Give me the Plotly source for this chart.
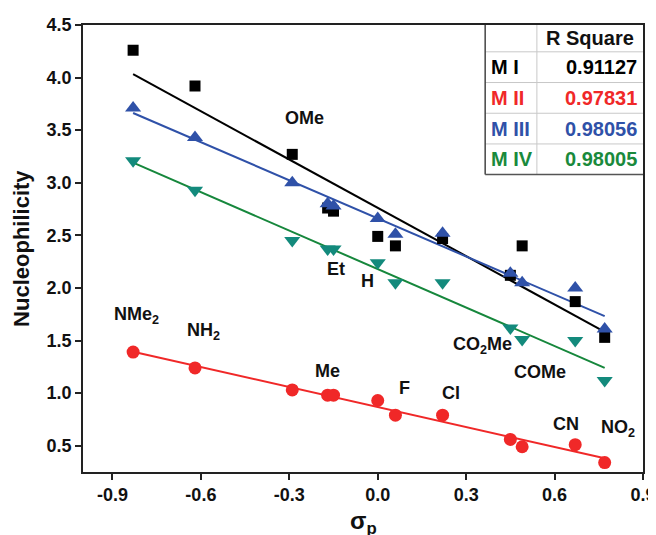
import numpy as np
import plotly.graph_objects as go

# ---------------- data ----------------
sigma_p = [-0.83, -0.62, -0.29, -0.17, -0.15, 0.00, 0.06, 0.22, 0.45, 0.49, 0.67, 0.77]
m1 = [4.26, 3.92, 3.27, 2.76, 2.73, 2.49, 2.40, 2.47, 2.12, 2.40, 1.87, 1.53]
m2 = [1.39, 1.24, 1.03, 0.98, 0.98, 0.93, 0.79, 0.79, 0.56, 0.49, 0.51, 0.34]
m3 = [3.71, 3.43, 3.00, 2.80, 2.78, 2.66, 2.51, 2.52, 2.14, 2.05, 2.00, 1.61]
m4 = [3.21, 2.93, 2.45, 2.37, 2.37, 2.24, 2.05, 2.05, 1.62, 1.51, 1.50, 1.12]

series_names = ["M I", "M II", "M III", "M IV"]
r_square = ["0.91127", "0.97831", "0.98056", "0.98005"]

sub_labels = ["NMe<sub>2</sub>", "NH<sub>2</sub>", "OMe", "Me", "Et", "H", "F", "Cl",
              "CO<sub>2</sub>Me", "COMe", "CN", "NO<sub>2</sub>"]
label_x = [-0.82, -0.59, -0.25, -0.17, -0.14, -0.035, 0.09, 0.25, 0.355, 0.55, 0.64, 0.815]
label_y = [1.74, 1.585, 3.62, 1.21, 2.18, 2.065, 1.045, 1.005, 1.45, 1.20, 0.71, 0.665]

x_ticks = [-0.9, -0.6, -0.3, 0.0, 0.3, 0.6, 0.9]
y_ticks = [0.5, 1.0, 1.5, 2.0, 2.5, 3.0, 3.5, 4.0, 4.5]

# ---------------- styles ----------------
C_BLACK = "#000000"
C_RED = "#f02828"
C_BLUE = "#2f51a8"
C_GREEN_LINE = "#16873c"
C_GREEN_MARK = "#138a7c"
C_GREEN_TXT = "#1a8a3c"
FONT = "Arial, Liberation Sans, sans-serif"

fig = go.Figure()

xs = np.array(sigma_p)
series = [
    (m1, C_BLACK, C_BLACK, "square", 11),
    (m4, C_GREEN_LINE, C_GREEN_MARK, "triangle-down", 14),
    (m3, C_BLUE, C_BLUE, "triangle-up", 14),
    (m2, C_RED, C_RED, "circle", 13),
]

# fit lines
for ys, lc, mc, sym, sz in series:
    k, b = np.polyfit(xs, np.array(ys), 1)
    xf = np.array([xs.min(), xs.max()])
    fig.add_trace(go.Scatter(x=xf, y=k * xf + b, mode="lines",
                             line=dict(color=lc, width=2), showlegend=False,
                             hoverinfo="skip"))
# markers
for ys, lc, mc, sym, sz in series:
    fig.add_trace(go.Scatter(x=sigma_p, y=ys, mode="markers",
                             marker=dict(symbol=sym, size=sz, color=mc,
                                         line=dict(width=0)),
                             showlegend=False))

# substituent labels
for t, lx, ly in zip(sub_labels, label_x, label_y):
    fig.add_annotation(x=lx, y=ly, xref="x", yref="y", text=t, showarrow=False,
                       font=dict(family=FONT, size=18, color="#111111", weight="bold"))

# ---------------- R square table ----------------
tx0, tx1, txm = 0.3645, 0.9, 0.540
row_edges = [4.5, 4.245, 3.953, 3.661, 3.369, 3.078]
fig.add_shape(type="rect", xref="x", yref="y", x0=tx0, x1=tx1, y0=row_edges[-1], y1=row_edges[0],
              fillcolor="white", line=dict(width=0), layer="above")
for e in row_edges[1:-1]:
    fig.add_shape(type="line", xref="x", yref="y", x0=tx0, x1=tx1, y0=e, y1=e,
                  line=dict(color="#c8c8c8", width=1), layer="above")
fig.add_shape(type="line", xref="x", yref="y", x0=txm, x1=txm, y0=row_edges[-1], y1=row_edges[0],
              line=dict(color="#c8c8c8", width=1), layer="above")
fig.add_shape(type="line", xref="x", yref="y", x0=tx0, x1=tx0, y0=row_edges[-1], y1=row_edges[0],
              line=dict(color="#444444", width=1.5), layer="above")
fig.add_shape(type="line", xref="x", yref="y", x0=tx0, x1=tx1, y0=row_edges[-1], y1=row_edges[-1],
              line=dict(color="#555555", width=1.5), layer="above")

fig.add_annotation(x=(txm + tx1) / 2, y=(row_edges[0] + row_edges[1]) / 2, xref="x", yref="y",
                   text="R Square", showarrow=False,
                   font=dict(family=FONT, size=20, color="#111111", weight="bold"))
row_colors = [C_BLACK, C_RED, C_BLUE, C_GREEN_TXT]
for i, (nm, rv, col) in enumerate(zip(series_names, r_square, row_colors)):
    yc = (row_edges[i + 1] + row_edges[i + 2]) / 2
    fig.add_annotation(x=tx0 + 0.012, y=yc, xref="x", yref="y", text=nm, showarrow=False,
                       xanchor="left", font=dict(family=FONT, size=20, color=col, weight="bold"))
    fig.add_annotation(x=tx1 - 0.012, y=yc, xref="x", yref="y", text=rv, showarrow=False,
                       xanchor="right", font=dict(family=FONT, size=20, color=col, weight="bold"))

# axis titles
fig.add_annotation(x=0.5, y=-0.074, xref="paper", yref="paper", text="σ<sub>p</sub>",
                   showarrow=False, yanchor="top",
                   font=dict(family=FONT, size=24, color="#111111", weight="bold"))
fig.add_annotation(x=-0.11, y=0.5, xref="paper", yref="paper", text="Nucleophilicity",
                   showarrow=False, textangle=-90, xanchor="center",
                   font=dict(family=FONT, size=22, color="#111111", weight="bold"))

axis_common = dict(showgrid=False, zeroline=False, showline=True, linecolor="#222222",
                   linewidth=1.5, mirror=True, ticks="outside", ticklen=6, tickwidth=1.5,
                   tickcolor="#222222", automargin=False, ticklabeloverflow="allow",
                   tickfont=dict(family=FONT, size=18, color="#111111", weight="bold"))
fig.update_xaxes(range=[-1.0, 0.9], tickvals=x_ticks,
                 ticktext=[f"{v:.1f}" for v in x_ticks], **axis_common)
fig.update_yaxes(range=[0.25, 4.5], tickvals=y_ticks,
                 ticktext=[f"{v:.1f}" for v in y_ticks], **axis_common)

# the page body adds an 8px offset; the figure is sized to fill the rest of the window
fig.update_layout(width=648, height=527, margin=dict(l=75, r=13, t=17, b=63, autoexpand=False),
                  plot_bgcolor="white", paper_bgcolor="white", showlegend=False)

fig.write_html("out.html")
